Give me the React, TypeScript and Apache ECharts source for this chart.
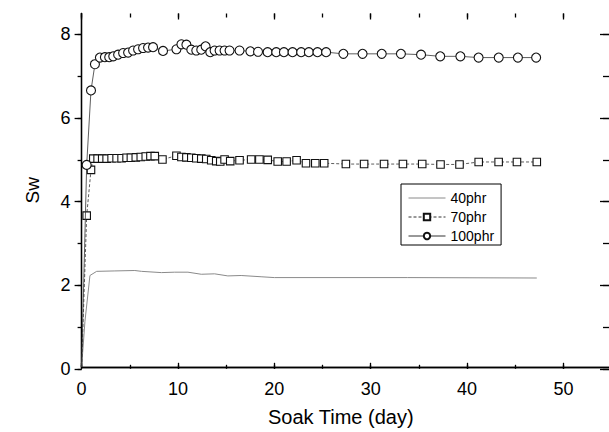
import React, { useEffect, useRef } from "react";
import * as echarts from "echarts";

// Soak time (day) and Sw values
const t40 = [0, 0.35, 0.87, 1.57, 3.47, 5.55, 6.25, 8.33, 9.71, 11.09, 12.48, 13.87, 15.25, 16.64, 18.72, 20.1, 33.96, 47.47];
const v40 = [0, 1.1, 2.2, 2.3, 2.31, 2.32, 2.3, 2.27, 2.28, 2.28, 2.23, 2.24, 2.19, 2.2, 2.17, 2.15, 2.15, 2.14];

const t70 = [0, 0.53, 0.98, 1.22, 1.67, 2.15, 2.61, 3.13, 3.65, 4.17, 4.69, 5.14, 5.65, 6.17, 6.69, 7.18, 7.63,
  8.43, 9.89, 10.41, 10.93, 11.44, 11.96, 12.48, 13.0, 13.52, 14.04, 14.46, 14.91, 15.5, 16.47,
  17.68, 18.54, 19.41, 20.45, 21.38, 22.42, 23.4, 24.37, 25.3, 27.56, 29.46, 31.54, 33.51, 35.52,
  37.43, 39.41, 41.41, 43.49, 45.4, 47.47];
const v70 = [0, 3.64, 4.74, 5.01, 5.01, 5.01, 5.01, 5.02, 5.02, 5.02, 5.03, 5.03, 5.04, 5.05, 5.06, 5.07, 5.07,
  4.99, 5.08, 5.05, 5.04, 5.03, 5.02, 5.01, 5.0, 4.97, 4.95, 4.94, 4.99, 4.95, 4.97,
  4.99, 4.99, 4.98, 4.94, 4.94, 4.97, 4.9, 4.9, 4.9, 4.88, 4.88, 4.88, 4.88, 4.88,
  4.87, 4.87, 4.93, 4.93, 4.93, 4.93];

const t100 = [0, 0.53, 0.98, 1.39, 1.91, 2.43, 2.88, 3.3, 3.81, 4.33, 4.85, 5.37, 5.89, 6.41, 6.93, 7.45,
  8.49, 9.89, 10.41, 10.93, 11.44, 11.96, 12.48, 12.93, 13.42, 13.87, 14.39, 14.91, 15.43, 16.47,
  17.6, 18.4, 19.4, 20.3, 21.1, 22.0, 22.9, 23.7, 24.6, 25.5, 27.3, 29.3, 31.3, 33.3, 35.4,
  37.4, 39.5, 41.4, 43.5, 45.5, 47.4];
const v100 = [0, 4.86, 6.65, 7.28, 7.44, 7.45, 7.45, 7.47, 7.51, 7.55, 7.56, 7.61, 7.64, 7.67, 7.68, 7.69,
  7.6, 7.64, 7.76, 7.75, 7.63, 7.61, 7.63, 7.71, 7.57, 7.61, 7.61, 7.61, 7.61, 7.61,
  7.59, 7.58, 7.57, 7.57, 7.57, 7.57, 7.57, 7.57, 7.57, 7.57, 7.53, 7.53, 7.53, 7.53, 7.51,
  7.47, 7.47, 7.44, 7.44, 7.44, 7.44];

const seriesNames = ["40phr", "70phr", "100phr"];
// axis ranges / tick steps
const X_MAX = 55, X_TICK_MAX = 50, X_MAJOR = 10, X_MINOR = 5;
const Y_MAX = 8.5, Y_TICK_MAX = 8, Y_MAJOR = 2, Y_MINOR = 1;

const FONT = "'Liberation Sans', Arial, sans-serif";

// plot geometry
const G_LEFT = 81.6, G_TOP = 13.5, G_W = 530, G_H = 355.3;
const PX_PER_X = G_W / X_MAX;
const PX_PER_Y = G_H / Y_MAX;

function pairs(t: number[], v: number[]) {
  return t.map((x, i) => {
    if (i === 0) return { value: [x, v[i]], symbol: "none" };
    return { value: [x, v[i]] };
  });
}

export default function App() {
  const ref = useRef<HTMLDivElement>(null);
  useEffect(() => {
    if (!ref.current) return;
    const chart = echarts.init(ref.current, null, { renderer: "svg" });
    const lineOn = { show: true, lineStyle: { color: "#000", width: 1.3 } };
    const lineOff = { show: false };
    const tickStyle = { color: "#000", width: 1.3 };
    const noLabel = { show: false };
    const noSplit = { show: false };
    const tickX = (gridIndex: number, position: string, interval: number, length: number, label: boolean) => ({
      type: "value", gridIndex, position, min: 0, max: X_TICK_MAX, interval,
      axisLine: lineOff, splitLine: noSplit,
      axisTick: { show: true, inside: true, length, lineStyle: tickStyle },
      axisLabel: label ? { color: "#000", fontSize: 18, fontFamily: FONT, margin: 11 } : noLabel,
    });
    const tickY = (gridIndex: number, position: string, interval: number, length: number, inside: boolean, label: boolean) => ({
      type: "value", gridIndex, position, min: 0, max: Y_TICK_MAX, interval,
      axisLine: lineOff, splitLine: noSplit,
      axisTick: { show: true, inside, length, lineStyle: tickStyle },
      axisLabel: label ? { color: "#000", fontSize: 18, fontFamily: FONT, margin: 11 } : noLabel,
    });
    chart.setOption({
      animation: false,
      backgroundColor: "#fff",
      grid: [
        { left: G_LEFT, top: G_TOP, width: G_W, height: G_H },
        { left: G_LEFT, top: G_TOP, width: PX_PER_X * X_TICK_MAX, height: G_H },
        { left: G_LEFT, top: G_TOP + PX_PER_Y * (Y_MAX - Y_TICK_MAX), width: G_W, height: PX_PER_Y * Y_TICK_MAX },
      ],
      xAxis: [
        {
          type: "value", gridIndex: 0, position: "bottom", min: 0, max: X_MAX,
          axisLine: lineOn, axisTick: { show: false }, axisLabel: noLabel, splitLine: noSplit,
          name: "Soak Time (day)", nameLocation: "middle", nameGap: 40,
          nameTextStyle: { color: "#000", fontSize: 20, fontFamily: FONT, padding: [0, 9, 0, 0] },
        },
        {
          type: "value", gridIndex: 0, position: "top", min: 0, max: X_MAX,
          axisLine: lineOn, axisTick: { show: false }, axisLabel: noLabel, splitLine: noSplit,
        },
        tickX(1, "bottom", X_MAJOR, 6, true),
        tickX(1, "bottom", X_MINOR, 4, false),
        tickX(1, "top", X_MAJOR, 6, false),
        tickX(1, "top", X_MINOR, 4, false),
        { type: "value", gridIndex: 2, min: 0, max: X_MAX, show: false },
      ],
      yAxis: [
        {
          type: "value", gridIndex: 0, position: "left", min: 0, max: Y_MAX,
          axisLine: lineOn, axisTick: { show: false }, axisLabel: noLabel, splitLine: noSplit,
          name: "Sw", nameLocation: "middle", nameGap: 40, nameRotate: 90,
          nameTextStyle: { color: "#000", fontSize: 19, fontFamily: FONT },
        },
        {
          type: "value", gridIndex: 0, position: "right", min: 0, max: Y_MAX,
          axisLine: lineOn, axisTick: { show: false }, axisLabel: noLabel, splitLine: noSplit,
        },
        { type: "value", gridIndex: 1, min: 0, max: Y_MAX, show: false },
        tickY(2, "left", Y_MAJOR, 7, false, true),
        tickY(2, "left", Y_MINOR, 4, false, false),
        tickY(2, "right", Y_MAJOR, 9, true, false),
        tickY(2, "right", Y_MINOR, 6, true, false),
      ],
      legend: {
        data: [
          { name: seriesNames[0], itemStyle: { opacity: 0 } },
          { name: seriesNames[1] },
          { name: seriesNames[2] },
        ],
        orient: "vertical",
        left: 401,
        top: 184,
        padding: [7, 7, 2, 7],
        itemGap: 5,
        itemWidth: 37,
        itemHeight: 8,
        borderColor: "#000",
        borderWidth: 1,
        backgroundColor: "#fff",
        lineStyle: { width: 1 },
        textStyle: { color: "#000", fontSize: 14, fontFamily: FONT },
      },
      series: [
        {
          name: seriesNames[0], type: "line", xAxisIndex: 0, yAxisIndex: 0,
          showSymbol: false, symbol: "none",
          data: t40.map((x, i) => [x, v40[i]]),
          lineStyle: { color: "#8a8a8a", width: 1 },
          itemStyle: { color: "#8a8a8a" },
          z: 2,
        },
        {
          name: seriesNames[1], type: "line", xAxisIndex: 0, yAxisIndex: 0,
          symbol: "rect", symbolSize: 7.5,
          data: pairs(t70, v70),
          lineStyle: { color: "#333", width: 0.8, type: [3, 2] },
          itemStyle: { color: "#fff", borderColor: "#111", borderWidth: 1.1 },
          z: 3,
        },
        {
          name: seriesNames[2], type: "line", xAxisIndex: 0, yAxisIndex: 0,
          symbol: "circle", symbolSize: 9,
          data: pairs(t100, v100),
          lineStyle: { color: "#333", width: 0.8 },
          itemStyle: { color: "#fff", borderColor: "#111", borderWidth: 1.1 },
          z: 4,
        },
      ],
    });
    return () => chart.dispose();
  }, []);
  return <div ref={ref} style={{ width: 609, height: 432, position: "absolute", left: 0, top: 0 }} />;
}
